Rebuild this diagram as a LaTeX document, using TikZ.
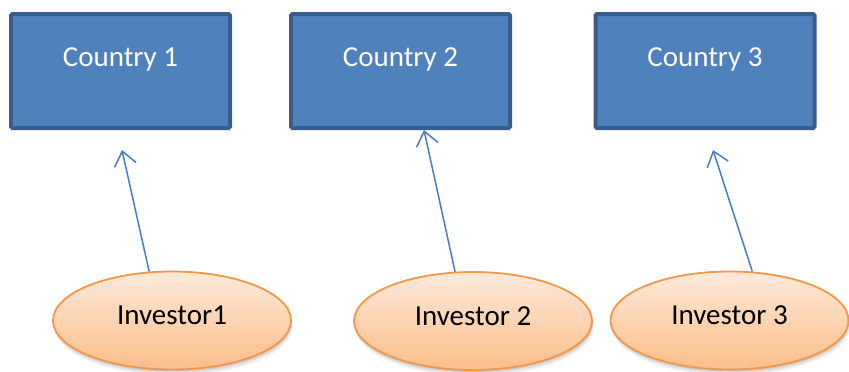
\documentclass[tikz,border=0pt]{standalone}
\usepackage{fontspec}
\setmainfont{Carlito}
\usetikzlibrary{shapes.geometric,arrows.meta,shadows}
\definecolor{boxfill}{HTML}{4F81BD}
\definecolor{boxline}{HTML}{385D8A}
\definecolor{arrowcol}{HTML}{4A7EBB}
\definecolor{ellline}{HTML}{F79646}
\definecolor{elltop}{HTML}{FDEADA}
\definecolor{ellbot}{HTML}{FBBE8A}
\tikzset{
  softshadow/.style={
    drop shadow={shadow xshift=0.5pt, shadow yshift=-2pt, opacity=0.10, fill=black},
    drop shadow={shadow xshift=1pt, shadow yshift=-4pt, opacity=0.08, fill=black},
    drop shadow={shadow xshift=1.5pt, shadow yshift=-6pt, opacity=0.05, fill=black}},
  country/.style={rectangle, draw=boxline, fill=boxfill, line width=4pt,
    rounded corners=1.5pt, minimum width=219pt, minimum height=114pt,
    text=white, font=\fontsize{29}{30}\selectfont,
    text height=20pt, text depth=30pt, inner sep=0pt,
    drop shadow={shadow xshift=1pt, shadow yshift=-2pt, opacity=0.08, fill=black}},
  investor/.style={ellipse, draw=ellline, line width=1.8pt,
    top color=elltop, bottom color=ellbot,
    minimum width=238pt, minimum height=98pt, inner sep=0pt,
    font=\fontsize{29}{30}\selectfont, text=black,
    text height=20pt, text depth=12pt, softshadow},
  invest/.style={draw=arrowcol, line width=1.5pt,
    -{Straight Barb[length=14pt,width=22pt,line width=1.5pt]}}
}
\begin{document}
\begin{tikzpicture}[x=1pt,y=-1pt]
\useasboundingbox (0,0) rectangle (849,372);
\node[country] (c1) at (120.5,71) {Country 1};
\node[country] (c2) at (400.5,71) {Country 2};
\node[country] (c3) at (705,71) {Country 3};
\node[investor] (i1) at (172,320.5) {Investor1};
\node[investor] (i2) at (473,321) {Investor 2};
\node[investor] (i3) at (729.5,320.5) {Investor 3};
\coordinate (t1) at (122,150);
\coordinate (t2) at (424,130);
\coordinate (t3) at (713,150);
\draw[invest] (i1.115) -- (t1);
\draw[invest] (i2.110) -- (t2);
\draw[invest] (i3.65) -- (t3);
\end{tikzpicture}
\end{document}
